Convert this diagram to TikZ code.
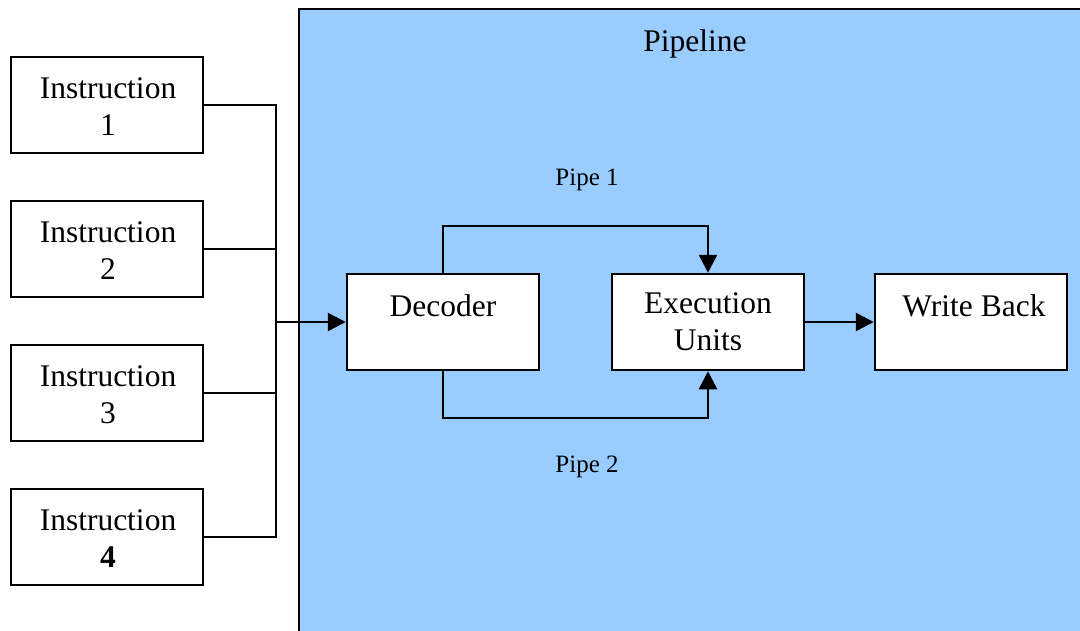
\documentclass[tikz,border=0pt]{standalone}
\usepackage{fontspec}
\setmainfont{Liberation Serif}
\usetikzlibrary{arrows.meta}
\definecolor{pipeblue}{RGB}{153,204,255}
\tikzset{
  box/.style={draw=black, line width=2.5pt, fill=white, minimum width=192pt, minimum height=96pt, inner sep=0pt},
  boxtext/.style={font=\fontsize{31.5}{37}\selectfont, align=center, inner sep=0pt},
  wire/.style={line width=2.5pt},
  arr/.style={wire, -{Triangle[length=18pt,width=18pt]}},
  pipelabel/.style={font=\fontsize{25}{30}\selectfont, inner sep=0pt}
}
\begin{document}
\begin{tikzpicture}[x=1pt,y=-1pt]
\useasboundingbox (0,0) rectangle (1080,630);
\fill[white] (0,0) rectangle (1080,630);
% pipeline background
\draw[line width=2.5pt, fill=pipeblue] (299,9) rectangle (1090,640);
\node[font=\fontsize{31.5}{37}\selectfont, inner sep=0pt] (ptitle) at (695,44) {Pipeline};

% instruction boxes
\node[box] (i1) at (107,105) {};
\node[box] (i2) at (107,249) {};
\node[box] (i3) at (107,393) {};
\node[box] (i4) at (107,537) {};
\node[boxtext] (t1) at (108,107) {Instruction\\1};
\node[boxtext] (t2) at (108,251) {Instruction\\2};
\node[boxtext] (t3) at (108,395) {Instruction\\3};
\node[boxtext] (t4) at (108,539) {Instruction\\\textbf{4}};

% bus
\coordinate (bt) at (276,105);
\coordinate (bb) at (276,537);
\coordinate (bm) at (276,322);
\draw[wire] (i1.east) -- (bt) -- (bb) -- (i4.east);
\draw[wire] (i2.east) -- (276,249);
\draw[wire] (i3.east) -- (276,393);

% pipeline stages
\node[box] (dec) at (443,322) {};
\node[boxtext] (dect) at (443,306) {Decoder};
\node[box] (exe) at (708,322) {};
\node[boxtext] (exet) at (708,322) {Execution\\Units};
\node[box] (wb) at (971,322) {};
\node[boxtext] (wbt) at (974,306) {Write Back};

% connectors
\draw[arr] (bm) -- (dec.west);
\draw[arr] (dec.north) -- (443,226) -- (708,226) -- (exe.north);
\draw[arr] (dec.south) -- (443,418) -- (708,418) -- (exe.south);
\draw[arr] (exe.east) -- (wb.west);

\node[pipelabel] (p1) at (587,180) {Pipe 1};
\node[pipelabel] (p2) at (587,467) {Pipe 2};
\end{tikzpicture}
\end{document}
